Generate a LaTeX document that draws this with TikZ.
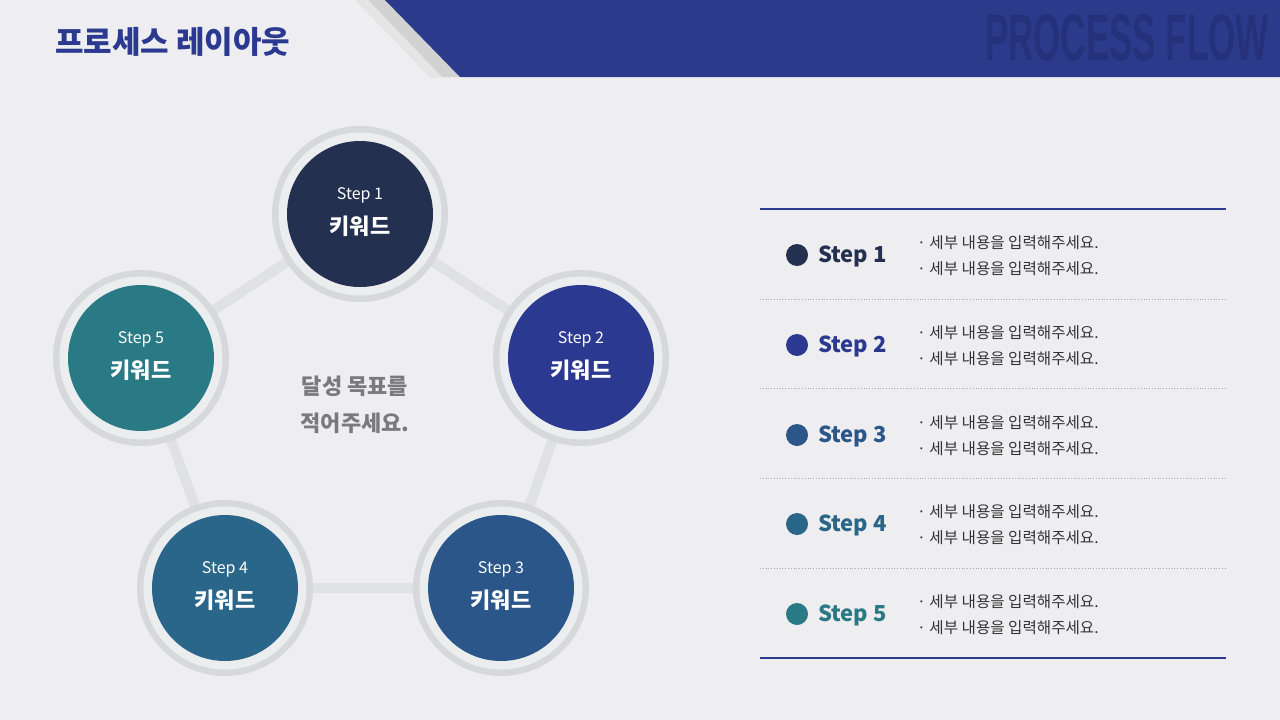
\documentclass[tikz,border=0pt]{standalone}
\usepackage{fontspec}
\newfontfamily\kr{Noto Sans CJK KR}
\newfontfamily\hv{Liberation Sans}
\definecolor{bg}{HTML}{EEEEF0}
\definecolor{band}{HTML}{2B3A8A}
\definecolor{bandtxt}{HTML}{25317A}
\definecolor{cA}{HTML}{24304F}
\definecolor{cB}{HTML}{2B3990}
\definecolor{cC}{HTML}{2A5689}
\definecolor{cD}{HTML}{2A6689}
\definecolor{cE}{HTML}{2A7A86}
\definecolor{ringgray}{HTML}{D6D8DB}
\definecolor{gapgray}{HTML}{EBEDEF}
\definecolor{linkgray}{HTML}{E0E1E4}
\definecolor{bodytxt}{HTML}{333333}
\definecolor{goaltxt}{HTML}{7A7A7C}
\tikzset{
  ringout/.style={circle, fill=ringgray, minimum size=176pt, inner sep=0pt},
  ringgap/.style={circle, fill=gapgray, minimum size=163pt, inner sep=0pt},
  stepdisk/.style={circle, minimum size=146pt, inner sep=0pt, text=white, align=center},
  link/.style={line width=10pt, draw=linkgray},
  rowdot/.style={circle, minimum size=22pt, inner sep=0pt},
  rowlabel/.style={anchor=west, font=\kr\bfseries\fontsize{22}{24}\selectfont, inner sep=0pt},
  rowtext/.style={anchor=west, font=\kr\fontsize{15.6}{18}\selectfont, text=bodytxt, inner sep=0pt},
  sepline/.style={draw=gray!70, line width=0.8pt, dotted},
  mainline/.style={draw=band, line width=2pt}
}
\begin{document}
\begin{tikzpicture}[x=1pt,y=-1pt]
\useasboundingbox (0,0) rectangle (1280,720);
\fill[bg] (0,0) rectangle (1280,720);
% header
\fill[gray!35] (356,0) -- (385,0) -- (460,77) -- (430,77) -- cycle;
\fill[gray!20] (356,0) -- (368,0) -- (442,77) -- (430,77) -- cycle;
\fill[band] (385,0) -- (1280,0) -- (1280,77) -- (460,77) -- cycle;
\node[anchor=west, inner sep=0pt, text=bandtxt, xscale=0.53] (pf) at (985,38) {\hv\bfseries\fontsize{66}{66}\selectfont PROCESS FLOW};
\node[anchor=west, inner sep=0pt, text=cB, font=\kr\bfseries\fontsize{31}{33}\selectfont] (title) at (55,42) {프로세스 레이아웃};
% circle centres
\coordinate (p1) at (360,214);
\coordinate (p2) at (581,358);
\coordinate (p3) at (501,588);
\coordinate (p4) at (225,588);
\coordinate (p5) at (141,358);
\draw[link] (p1) -- (p2) -- (p3) -- (p4) -- (p5) -- cycle;
\foreach \p in {p1,p2,p3,p4,p5}{
  \node[ringout] (r\p) at (\p) {};
  \node[ringgap] (g\p) at (\p) {};
}
\foreach \p/\c/\n in {p1/cA/1,p2/cB/2,p3/cC/3,p4/cD/4,p5/cE/5}{
  \node[stepdisk, fill=\c] (s\n) at (\p) {};
  \node[text=white, inner sep=0pt, font=\kr\fontsize{16}{18}\selectfont] (st\n) at ([yshift=19pt]\p) {Step \n};
  \node[text=white, inner sep=0pt, font=\kr\bfseries\fontsize{22}{24}\selectfont] (kw\n) at ([yshift=-12pt]\p) {키워드};
}
\node[text=goaltxt, align=center, inner sep=0pt, font=\kr\bfseries\fontsize{22}{37}\selectfont] (goal) at (355,405)
  {달성 목표를\\적어주세요.};
% table
\coordinate (tl) at (760,209); \coordinate (tr) at (1226,209);
\draw[mainline] (tl) -- (tr);
\coordinate (bl) at (760,658); \coordinate (br) at (1226,658);
\draw[mainline] (bl) -- (br);
\foreach \y in {299,388,478,568}{
  \coordinate (sl\y) at (760,\y); \coordinate (sr\y) at (1226,\y);
  \draw[sepline] (sl\y) -- (sr\y);
}
\foreach \n/\y/\c in {1/255/cA,2/345/cB,3/435/cC,4/524/cD,5/614/cE}{
  \node[rowdot, fill=\c] (d\n) at (797,\y) {};
  \node[rowlabel, text=\c] (l\n) at (818,\y+1.5) {Step \n};
  \node[rowtext] (ta\n) at (917,\y-12) {· 세부 내용을 입력해주세요.};
  \node[rowtext] (tb\n) at (917,\y+14) {· 세부 내용을 입력해주세요.};
}
\end{tikzpicture}
\end{document}
